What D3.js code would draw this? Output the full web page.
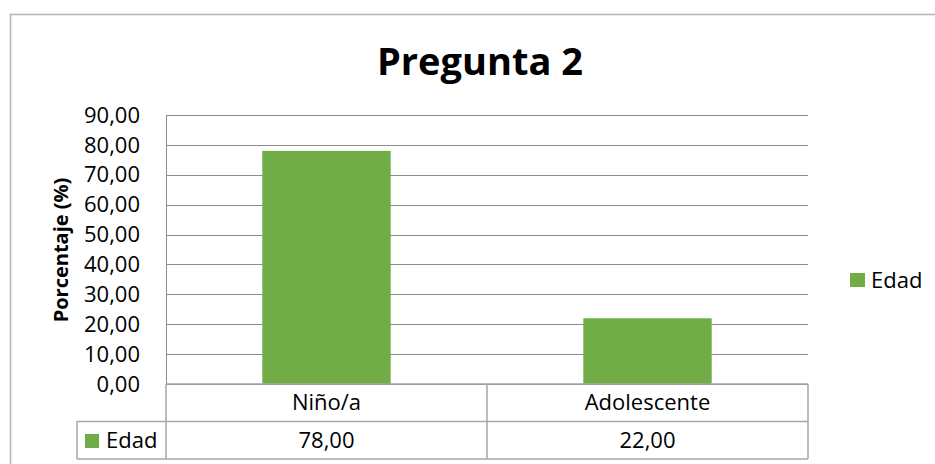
<!DOCTYPE html>
<html>
<head>
<meta charset="utf-8">
<script src="https://cdn.jsdelivr.net/npm/d3@7"></script>
<style>
  body { margin: 0; background: #fff; }
  text { font-family: "Open Sans", "Noto Sans", sans-serif; fill: #000; }
</style>
</head>
<body>
<div id="chart"></div>
<script>
// data
let categories = ["Niño/a", "Adolescente"];
let values = [78, 22];
let seriesName = "Edad";
let titleText = "Pregunta 2";
let yLabel = "Porcentaje (%)";
let yTicks = [0, 10, 20, 30, 40, 50, 60, 70, 80, 90];

function renderChart(){
    let total_width = 935;
    let total_height = 464;
    let green = "#70AD47";
    let gridColor = "#8c8c8c";
    let tableColor = "#a6a6a6";
    let fs = "22px";

    let plot = {left: 166, right: 808, top: 115, bottom: 384};
    let tableLeft = 77;
    let rowH = 37.5;

    let locale = d3.formatLocale({decimal: ",", thousands: ".", grouping: [3], currency: ["", ""]});
    let fmt = locale.format(".2f");

    let svg = d3.select("#chart").append("svg")
        .attr("width", total_width)
        .attr("height", total_height);

    // outer chart frame (right/bottom edges fall outside the picture)
    svg.append("rect")
        .attr("x", 10.5).attr("y", 14.5)
        .attr("width", 1000).attr("height", 600)
        .attr("fill", "none")
        .attr("stroke", "#b4b4b4")
        .attr("stroke-width", 1.5);

    let x = d3.scaleBand()
        .domain(categories)
        .range([plot.left, plot.right])
        .paddingInner(0).paddingOuter(0);

    let y = d3.scaleLinear()
        .domain([0, 90])
        .range([plot.bottom, plot.top]);

    // gridlines
    svg.append("g").selectAll("line").data(yTicks).enter().append("line")
        .attr("x1", plot.left).attr("x2", plot.right)
        .attr("y1", d => Math.round(y(d)) + 0.5)
        .attr("y2", d => Math.round(y(d)) + 0.5)
        .attr("stroke", gridColor)
        .attr("stroke-width", 1);

    // tick labels
    svg.append("g").selectAll("text").data(yTicks).enter().append("text")
        .attr("x", 140)
        .attr("y", d => y(d))
        .attr("dy", "0.35em")
        .attr("text-anchor", "end")
        .style("font-size", fs)
        .text(d => fmt(d));

    // bars
    let barW = x.bandwidth() * 0.4;
    svg.append("g").selectAll("rect").data(values).enter().append("rect")
        .attr("x", (d, i) => x(categories[i]) + (x.bandwidth() - barW) / 2)
        .attr("width", barW)
        .attr("y", d => y(d))
        .attr("height", d => y(0) - y(d))
        .attr("fill", green);

    // left axis line
    svg.append("line")
        .attr("x1", plot.left + 0.5).attr("x2", plot.left + 0.5)
        .attr("y1", plot.top).attr("y2", plot.bottom)
        .attr("stroke", gridColor);

    // data table
    let t = svg.append("g").attr("stroke", tableColor).attr("stroke-width", 1.5);
    let r1 = plot.bottom + rowH, r2 = plot.bottom + rowH * 2;
    t.append("line").attr("x1", plot.left).attr("x2", plot.right).attr("y1", plot.bottom).attr("y2", plot.bottom);
    t.append("line").attr("x1", tableLeft).attr("x2", plot.right).attr("y1", r1).attr("y2", r1);
    t.append("line").attr("x1", tableLeft).attr("x2", plot.right).attr("y1", r2).attr("y2", r2);
    t.append("line").attr("x1", tableLeft).attr("x2", tableLeft).attr("y1", r1).attr("y2", r2);
    let cuts = categories.map(c => x(c)).concat([plot.right]);
    t.selectAll(".vcut").data(cuts).enter().append("line")
        .attr("x1", d => d).attr("x2", d => d)
        .attr("y1", plot.bottom).attr("y2", r2);

    svg.append("g").selectAll("text").data(categories).enter().append("text")
        .attr("x", d => x(d) + x.bandwidth() / 2)
        .attr("y", plot.bottom + rowH / 2)
        .attr("dy", "0.35em")
        .attr("text-anchor", "middle")
        .style("font-size", fs)
        .text(d => d);

    svg.append("g").selectAll("text").data(values).enter().append("text")
        .attr("x", (d, i) => x(categories[i]) + x.bandwidth() / 2)
        .attr("y", r1 + rowH / 2)
        .attr("dy", "0.35em")
        .attr("text-anchor", "middle")
        .style("font-size", fs)
        .text(d => fmt(d));

    svg.append("rect")
        .attr("x", 85).attr("y", 434)
        .attr("width", 14).attr("height", 14)
        .attr("fill", green);
    svg.append("text")
        .attr("x", 106).attr("y", r1 + rowH / 2)
        .attr("dy", "0.35em")
        .style("font-size", fs)
        .text(seriesName);

    // legend
    svg.append("rect")
        .attr("x", 850).attr("y", 273)
        .attr("width", 15).attr("height", 14)
        .attr("fill", green);
    svg.append("text")
        .attr("x", 871).attr("y", 280)
        .attr("dy", "0.35em")
        .style("font-size", fs)
        .text(seriesName);

    // title
    svg.append("text")
        .attr("x", 480).attr("y", 75)
        .attr("text-anchor", "middle")
        .style("font-size", "38px")
        .style("font-weight", "bold")
        .text(titleText);

    // y axis title
    svg.append("text")
        .attr("transform", "translate(68,250) rotate(-90)")
        .attr("text-anchor", "middle")
        .style("font-size", "20px")
        .style("font-weight", "bold")
        .text(yLabel);
}

renderChart();
</script>
</body>
</html>
